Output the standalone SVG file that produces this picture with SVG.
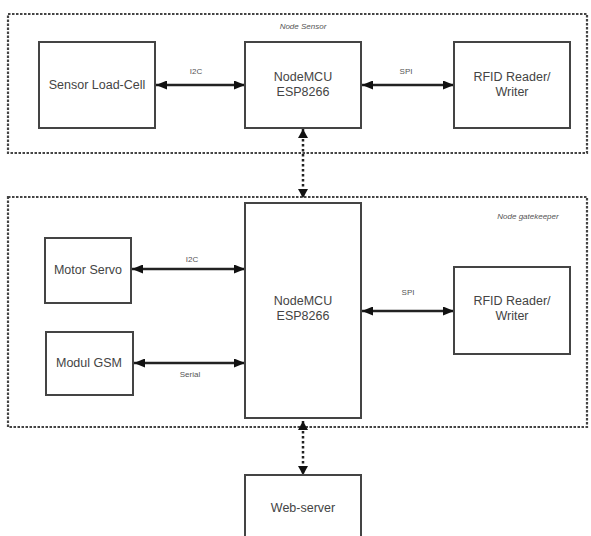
<svg xmlns="http://www.w3.org/2000/svg" width="591" height="536" viewBox="0 0 591 536">
<style>
.grp{fill:none;stroke:#444;stroke-width:2.2;stroke-dasharray:2.5 1.5}
.box{fill:#fff;stroke:#444;stroke-width:2}
.t{font-family:"Liberation Sans",Arial,sans-serif;font-size:12.5px;fill:#444;text-anchor:middle}
.s{font-family:"Liberation Sans",Arial,sans-serif;font-size:8px;fill:#555;text-anchor:middle}
.i{font-family:"Liberation Sans",Arial,sans-serif;font-size:8px;fill:#555;text-anchor:middle;font-style:italic}
.c{fill:none;stroke:#222;stroke-width:2.5;marker-start:url(#ah);marker-end:url(#ah)}
.d{fill:none;stroke:#222;stroke-width:2.5;stroke-dasharray:2.5 2.5;marker-start:url(#ah2);marker-end:url(#ah2)}
</style>
<defs>
<marker id="ah" markerUnits="userSpaceOnUse" markerWidth="11" markerHeight="9" refX="11" refY="4.5" orient="auto-start-reverse"><path d="M0,0 L11,4.5 L0,9 z" fill="#111"/></marker>
<marker id="ah2" markerUnits="userSpaceOnUse" markerWidth="9" markerHeight="10" refX="9" refY="5" orient="auto-start-reverse"><path d="M0,0 L9,5 L0,10 z" fill="#111"/></marker>
</defs>
<rect width="591" height="536" fill="#fff"/>
<g id="node-sensor-group">
<rect class="grp" x="8" y="14" width="579" height="139"/>
<text class="i" x="303" y="29">Node Sensor</text>
</g>
<g id="node-gatekeeper-group">
<rect class="grp" x="8" y="197" width="579" height="230"/>
<text class="i" x="528" y="219">Node gatekeeper</text>
</g>
<g id="connectors">
<line class="c" x1="156" y1="85" x2="245" y2="85"/>
<text class="s" x="196" y="74">I2C</text>
<line class="c" x1="362" y1="85" x2="454" y2="85"/>
<text class="s" x="406" y="74">SPI</text>
<line class="d" x1="303" y1="129" x2="303" y2="198"/>
<line class="c" x1="132" y1="269" x2="245" y2="269"/>
<text class="s" x="192" y="262">I2C</text>
<line class="c" x1="134" y1="363" x2="245" y2="363"/>
<text class="s" x="190" y="377">Serial</text>
<line class="c" x1="362" y1="311" x2="454" y2="311"/>
<text class="s" x="408" y="295">SPI</text>
<line class="d" x1="303" y1="421" x2="303" y2="475"/>
</g>
<g id="sensor-loadcell">
<rect class="box" x="39" y="42" width="116" height="86"/>
<text class="t" x="97" y="89">Sensor Load-Cell</text>
</g>
<g id="nodemcu-sensor">
<rect class="box" x="245" y="42" width="116" height="86"/>
<text class="t" x="303" y="81">NodeMCU</text>
<text class="t" x="303" y="96">ESP8266</text>
</g>
<g id="rfid-sensor">
<rect class="box" x="454" y="42" width="116" height="86"/>
<text class="t" x="512" y="81">RFID Reader/</text>
<text class="t" x="512" y="96">Writer</text>
</g>
<g id="motor-servo">
<rect class="box" x="45" y="238" width="86" height="65"/>
<text class="t" x="88" y="274">Motor Servo</text>
</g>
<g id="modul-gsm">
<rect class="box" x="46" y="332" width="87" height="63"/>
<text class="t" x="89" y="367">Modul GSM</text>
</g>
<g id="nodemcu-gatekeeper">
<rect class="box" x="245" y="203" width="116" height="215"/>
<text class="t" x="303" y="305">NodeMCU</text>
<text class="t" x="303" y="320">ESP8266</text>
</g>
<g id="rfid-gatekeeper">
<rect class="box" x="454" y="267" width="116" height="87"/>
<text class="t" x="512" y="305">RFID Reader/</text>
<text class="t" x="512" y="320">Writer</text>
</g>
<g id="web-server">
<rect class="box" x="245" y="475" width="116" height="70"/>
<text class="t" x="303" y="512">Web-server</text>
</g>
</svg>
